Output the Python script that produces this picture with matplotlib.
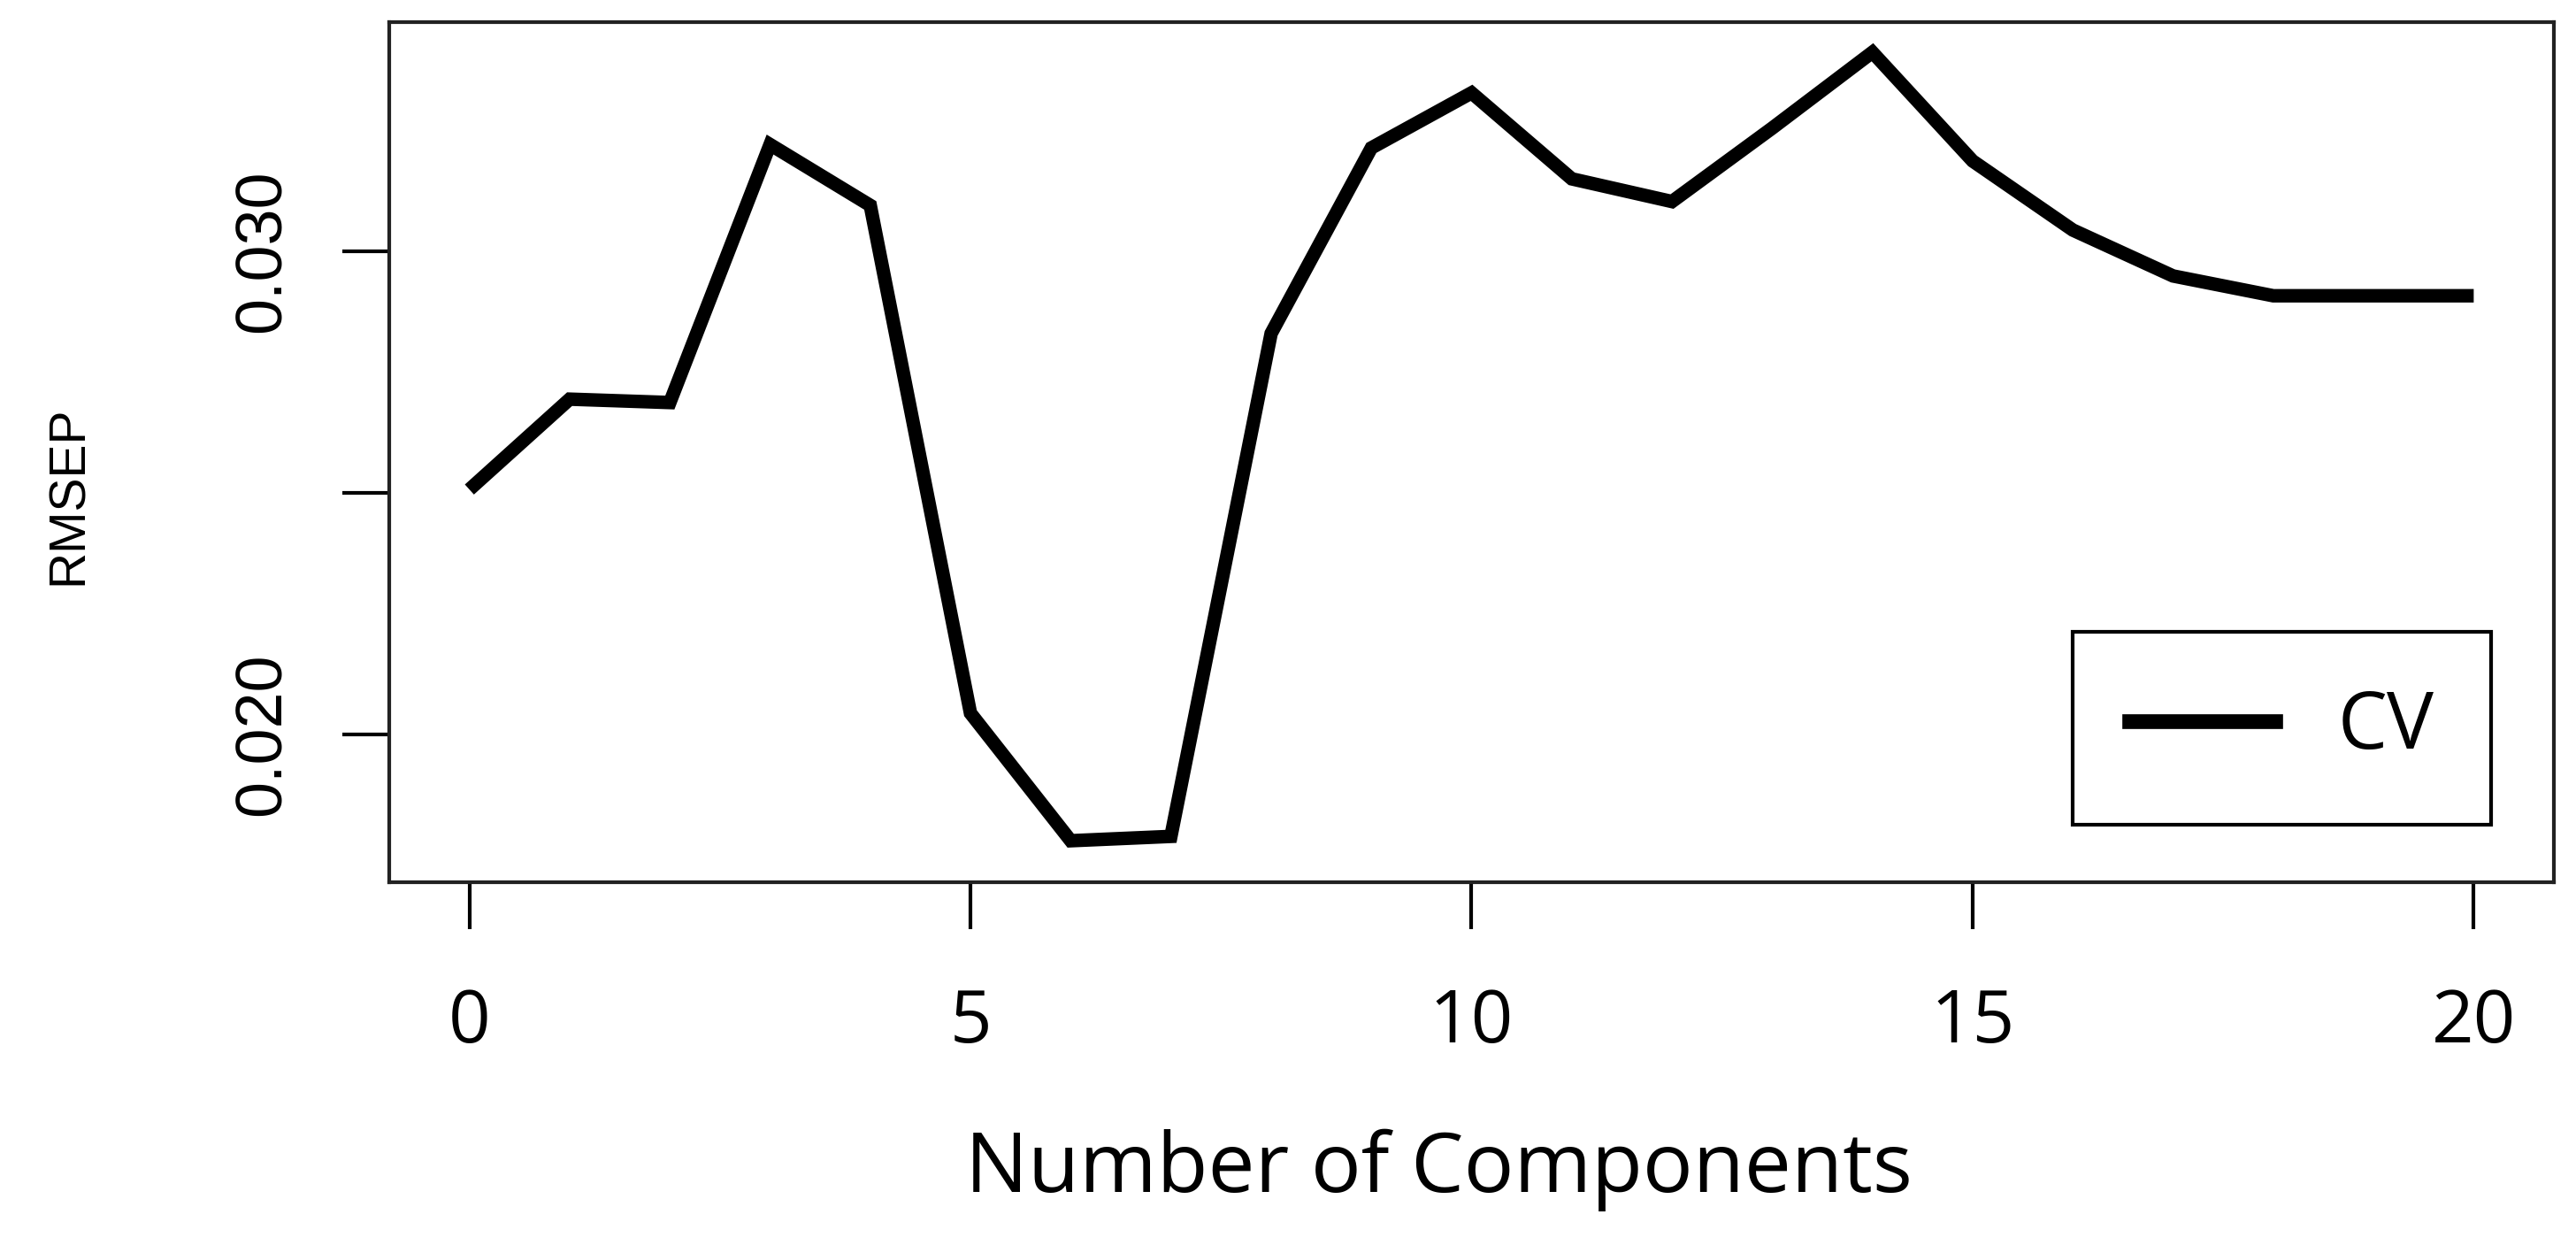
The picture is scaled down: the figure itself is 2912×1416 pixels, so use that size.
import matplotlib
matplotlib.use('Agg')
import matplotlib.pyplot as plt
from matplotlib.lines import Line2D

# RMSEP (Kreuzvalidierung) je Anzahl Komponenten
komponenten = list(range(21))
rmsep_cv = [0.02507, 0.02694, 0.02687, 0.03221, 0.03095, 0.02044, 0.01780,
            0.01789, 0.02830, 0.03214, 0.03328, 0.03150, 0.03103, 0.03255,
            0.03412, 0.03187, 0.03044, 0.02949, 0.02908, 0.02908, 0.02908]
x_ticks = [0, 5, 10, 15, 20]
y_ticks = [0.020, 0.025, 0.030]
y_ticklabels = ['0.020', '', '0.030']

W, H, DPI = 2912, 1416, 100
fig = plt.figure(figsize=(W / DPI, H / DPI), dpi=DPI)
ax = fig.add_axes([440 / W, 1 - 997 / H, (2887 - 440) / W, (997 - 25) / H])

ax.plot(komponenten, rmsep_cv, color='black', lw=11,
        solid_joinstyle='miter', solid_capstyle='butt')

ax.set_xlim(-0.8, 20.8)
ax.set_ylim(0.016941, 0.034744)

for s in ax.spines.values():
    s.set_linewidth(3)
    s.set_color('#222222')

ax.set_xticks(x_ticks)
ax.set_xticklabels([str(v) for v in x_ticks], fontsize=60, family='Open Sans')
ax.set_yticks(y_ticks)
ax.set_yticklabels(y_ticklabels, fontsize=53, family='Liberation Sans',
                   rotation=90, va='center')
ax.tick_params(axis='x', direction='out', length=38, width=3, pad=47)
ax.tick_params(axis='y', direction='out', length=38, width=3, pad=40)

ax.set_xlabel('Number of Components', fontsize=68, family='Open Sans')
ax.xaxis.set_label_coords(0.485, (997 - 1322) / 972)
ax.xaxis.label.set_va('center')
ax.set_ylabel('RMSEP', fontsize=41, family='Liberation Sans')
ax.yaxis.set_label_coords((78 - 440) / 2447, 0.45)
ax.yaxis.label.set_va('center')

handle = Line2D([], [], color='black', lw=12)
leg = ax.legend([handle], ['CV'], loc='lower right',
                bbox_to_anchor=(0.971, 0.0665), borderaxespad=0,
                prop={'family': 'Open Sans', 'size': 64},
                fancybox=False, framealpha=1, edgecolor='black',
                handlelength=1.85, handletextpad=0.8, borderpad=0.72)
leg.get_frame().set_linewidth(3)

fig.savefig('out.png', dpi=DPI, facecolor='white')
